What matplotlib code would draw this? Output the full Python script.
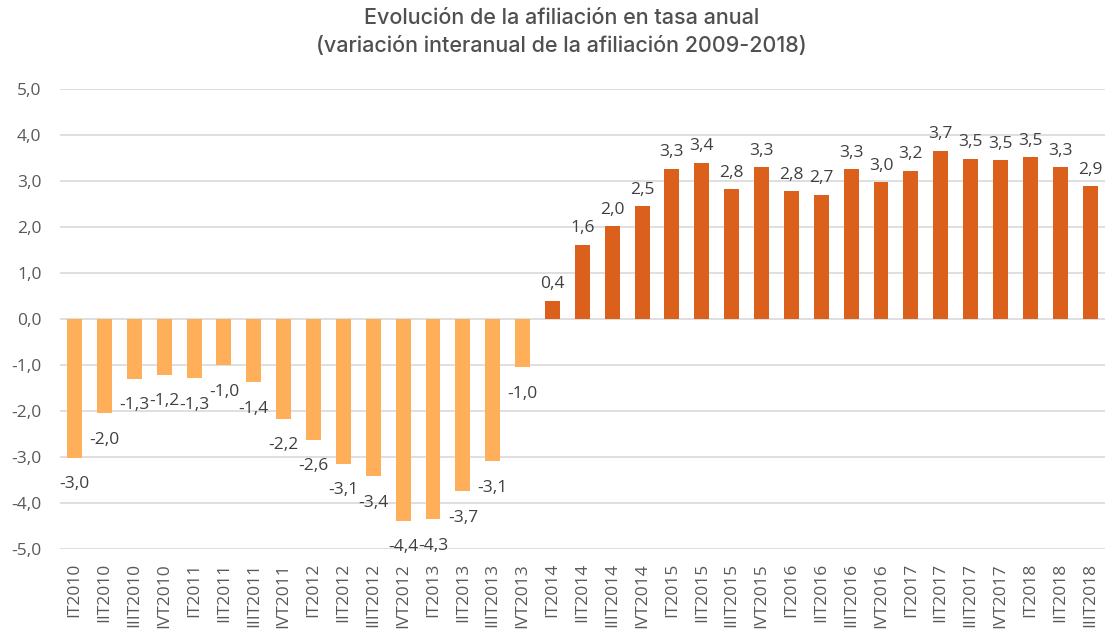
import matplotlib
matplotlib.use("Agg")
import matplotlib.pyplot as plt

# quarters and year-on-year change in affiliation (%)
quarters = ["I", "II", "III", "IV"]
years = [2010, 2011, 2012, 2013, 2014, 2015, 2016, 2017, 2018]
labels = [q + "T" + str(y) for y in years for q in quarters][:35]

values = [
    -3.01, -2.04, -1.29, -1.21, -1.28, -1.00, -1.37, -2.16,
    -2.62, -3.14, -3.42, -4.38, -4.35, -3.74, -3.09, -1.04,
    0.40, 1.62, 2.02, 2.46, 3.27, 3.40, 2.83, 3.30,
    2.78, 2.71, 3.26, 2.98, 3.23, 3.66, 3.49, 3.46,
    3.52, 3.30, 2.89,
]

NEG_COLOR = "#FFAF5A"
POS_COLOR = "#DA601B"
TEXT = "#404040"
GRID = "#D9D9D9"

plt.rcParams['font.family'] = ['Open Sans', 'DejaVu Sans']

fig = plt.figure(figsize=(11.05, 6.29), dpi=100)
ax = fig.add_axes([0.054, 0.127, 0.946, 0.731])

x = list(range(len(values)))
colors = [NEG_COLOR if v < 0 else POS_COLOR for v in values]
ax.bar(x, values, width=0.5, color=colors, zorder=3)

for xi, v in zip(x, values):
    txt = f"{v:.1f}".replace(".", ",")
    if v < 0:
        ax.annotate(txt, (xi, v), xytext=(0, -22), textcoords="offset points",
                    ha="center", va="baseline", fontsize=12.5, color=TEXT)
    else:
        ax.annotate(txt, (xi, v), xytext=(0, 9), textcoords="offset points",
                    ha="center", va="baseline", fontsize=12.5, color=TEXT)

ax.set_ylim(-5, 5)
ax.set_xlim(-0.5, len(values) - 0.5)
yt = [-5 + i for i in range(11)]
ax.set_yticks(yt)
ax.set_yticklabels([f"{t:.1f}".replace(".", ",") for t in yt], fontsize=12.5, color="#595959")
ax.set_xticks(x)
ax.set_xticklabels(labels, rotation=90, fontsize=12.5, color="#595959")
ax.tick_params(axis="y", length=0, pad=13)
ax.tick_params(axis="x", length=0, pad=10)
ax.grid(axis="y", color=GRID, linewidth=1.2, zorder=0)
for s in ax.spines.values():
    s.set_visible(False)

fig.text(0.508, 0.988, "Evolución de la afiliación en tasa anual\n(variación interanual de la afiliación 2009-2018)",
         ha="center", va="top", fontsize=15.5, color="#505050", fontweight="medium",
         family=["Inter", "DejaVu Sans"], linespacing=1.5)

fig.savefig("out.png", dpi=100)
